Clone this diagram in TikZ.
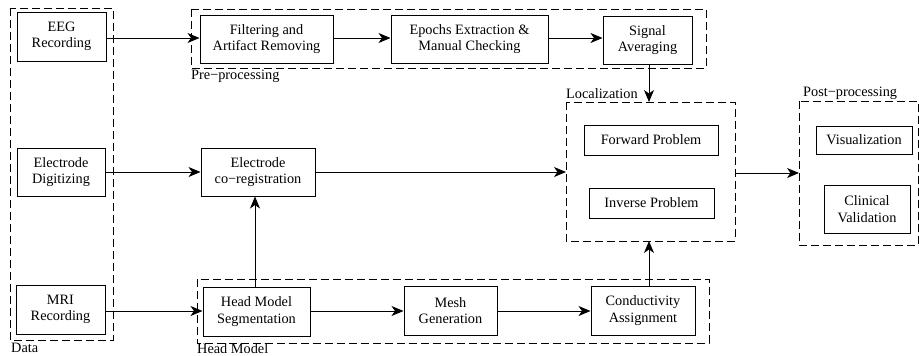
\documentclass[tikz,border=0pt]{standalone}
\usepackage{fontspec}
\setmainfont{Liberation Serif}
\usetikzlibrary{arrows.meta}
\begin{document}
\begin{tikzpicture}[x=1pt,y=-1pt,
  every node/.style={font=\fontsize{14.3}{16.3}\selectfont},
  blk/.style={draw, line width=1pt, align=center, inner sep=0pt},
  grp/.style={draw, line width=0.9pt, dash pattern=on 8pt off 4pt},
  lbl/.style={inner sep=0pt, anchor=west},
  arr/.style={line width=0.9pt, -{Stealth[length=12pt,width=10pt,inset=3.5pt]}}]
\useasboundingbox (0,0) rectangle (919,356);
% groups
\draw[grp] (10,8) rectangle (113,340);
\draw[grp] (191,9) rectangle (706,68);
\draw[grp] (566,102) rectangle (735,241);
\draw[grp] (799,101) rectangle (918,245);
\draw[grp] (197,279) rectangle (709,343);
\node[lbl] (ldata) at (11,348) {Data};
\node[lbl] (lpre) at (191,76) {Pre−processing};
\node[lbl] (lloc) at (566,94) {Localization};
\node[lbl] (lpost) at (803,93) {Post−processing};
\node[lbl] (lhead) at (197,349) {Head Model};
\coordinate (locN) at (649,102);
\coordinate (locS) at (649,241);
\coordinate (locW) at (566,172);
\coordinate (locE) at (735,173);
\coordinate (postW) at (799,173);
% boxes
\node[blk, minimum width=89pt, minimum height=49pt] (eeg) at (61.5,36.5) {EEG\\Recording};
\node[blk, minimum width=88pt, minimum height=48pt] (dig) at (61,172) {Electrode\\Digitizing};
\node[blk, minimum width=89pt, minimum height=49pt] (mri) at (60.5,309.5) {MRI\\Recording};
\node[blk, minimum width=133pt, minimum height=48pt] (filt) at (266.5,39) {Filtering and\\Artifact Removing};
\node[blk, minimum width=157pt, minimum height=48pt] (epoch) at (469.5,39) {Epochs Extraction \&\\Manual Checking};
\node[blk, minimum width=89pt, minimum height=48pt] (sig) at (647.5,40) {Signal\\Averaging};
\node[blk, minimum width=114pt, minimum height=48pt] (coreg) at (258,172) {Electrode\\co−registration};
\node[blk, minimum width=107pt, minimum height=49pt] (hms) at (256.5,311.5) {Head Model\\Segmentation};
\node[blk, minimum width=93pt, minimum height=49pt] (mesh) at (450.5,310.5) {Mesh\\Generation};
\node[blk, minimum width=104pt, minimum height=49pt] (cond) at (643,310.5) {Conductivity\\Assignment};
\node[blk, minimum width=134pt, minimum height=30pt] (fwd) at (651,140) {Forward Problem};
\node[blk, minimum width=125pt, minimum height=30pt] (inv) at (651.5,203) {Inverse Problem};
\node[blk, minimum width=96pt, minimum height=28pt] (vis) at (864,140) {Visualization};
\node[blk, minimum width=86pt, minimum height=48pt] (clin) at (867,209) {Clinical\\Validation};
% arrows
\draw[arr] (eeg.east |- 0,38) -- (filt.west |- 0,38);
\draw[arr] (filt.east |- 0,38) -- (epoch.west |- 0,38);
\draw[arr] (epoch.east |- 0,38) -- (sig.west |- 0,38);
\draw[arr] (dig.east) -- (coreg.west);
\draw[arr] (coreg.east) -- (locW);
\draw[arr] (locE) -- (postW);
\draw[arr] (sig.south -| locN) -- (locN);
\draw[arr] (cond.north -| locS) -- (locS);
\draw[arr] (hms.north -| 255,0) -- (coreg.south -| 255,0);
\draw[arr] (mri.east |- 0,311) -- (hms.west |- 0,311);
\draw[arr] (hms.east |- 0,311) -- (mesh.west |- 0,311);
\draw[arr] (mesh.east |- 0,311) -- (cond.west |- 0,311);
\end{tikzpicture}
\end{document}
